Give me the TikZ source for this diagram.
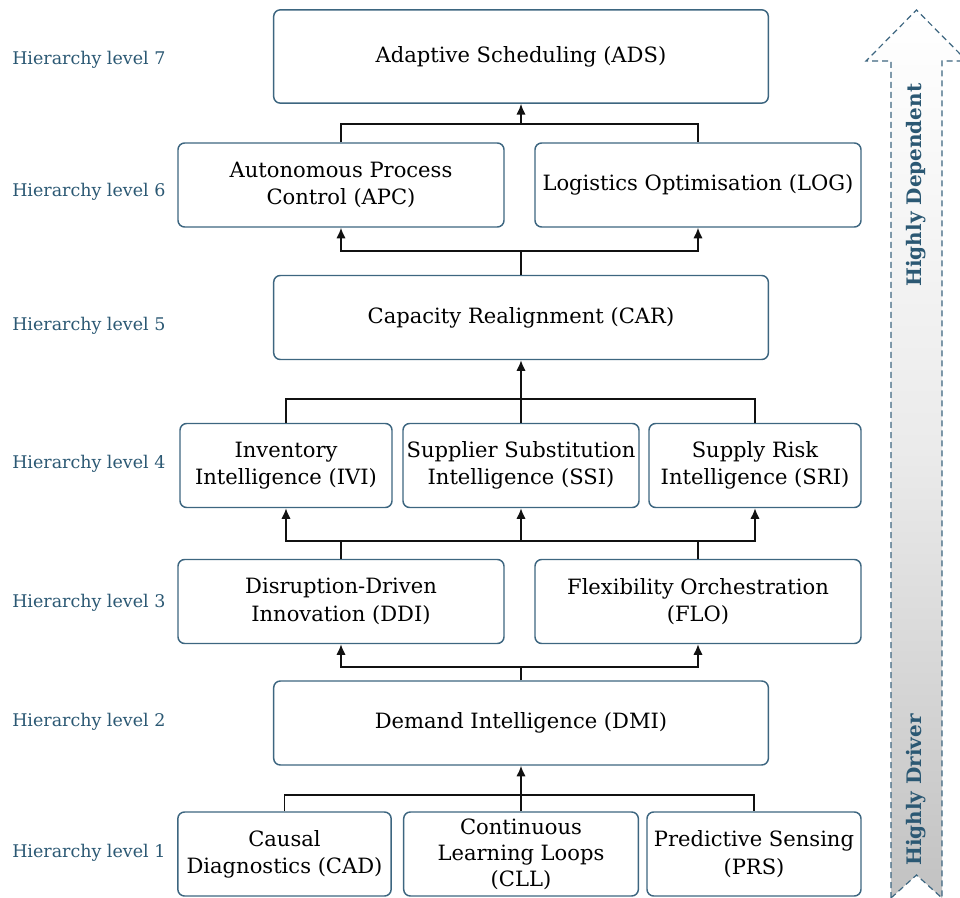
\documentclass[tikz,border=0pt]{standalone}
\usepackage{fontspec}
\setmainfont{DejaVu Serif}
\usetikzlibrary{arrows.meta}

\definecolor{lvltext}{HTML}{2B5873}
\definecolor{boxline}{HTML}{3D6680}
\definecolor{linkcol}{HTML}{111111}

\begin{document}
\begin{tikzpicture}[x=0.75pt,y=-0.75pt,
    box/.style={draw=boxline,line width=1.1pt,rounded corners=5pt,align=center,
                minimum height=63pt,inner sep=1pt,
                font=\fontsize{15.8}{20.5}\selectfont},
    widebox/.style={box,minimum width=371pt},
    midbox/.style={box,minimum width=244.5pt},
    smallbox/.style={box,minimum width=159pt},
    lvl/.style={anchor=west,text=lvltext,inner sep=0pt,font=\fontsize{13.1}{15}\selectfont},
    link/.style={draw=linkcol,line width=1.1pt},
    up/.style={link,-{Latex[length=8pt,width=7pt]}}]
\useasboundingbox (0,0) rectangle (960,898);

% Nivells de la jerarquia
\foreach \n/\y in {7/60,6/192,5/326,4/464,3/603,2/722,1/853}
    \node[lvl] (lvl\n) at (12,\y) {Hierarchy level \n};

% Caixes, de dalt a baix
\node[widebox,minimum height=70pt] (ads) at (521,56.5) {Adaptive Scheduling (ADS)};
\node[midbox] (apc) at (341,185) {Autonomous Process\\Control (APC)};
\node[midbox] (log) at (698,185) {Logistics Optimisation (LOG)};
\node[widebox] (car) at (521,317.5) {Capacity Realignment (CAR)};
\node[smallbox] (ivi) at (286,465.5) {Inventory\\Intelligence (IVI)};
\node[box,minimum width=177pt] (ssi) at (521,465.5) {Supplier Substitution\\Intelligence (SSI)};
\node[smallbox] (sri) at (755,465.5) {Supply Risk\\Intelligence (SRI)};
\node[midbox] (ddi) at (341,601.5) {Disruption-Driven\\Innovation (DDI)};
\node[midbox] (flo) at (698,601.5) {Flexibility Orchestration\\(FLO)};
\node[widebox] (dmi) at (521,723) {Demand Intelligence (DMI)};
\node[smallbox,minimum width=160pt] (cad) at (284.5,854) {Causal\\Diagnostics (CAD)};
\node[box,minimum width=176pt,font=\fontsize{15.8}{19.5}\selectfont] (cll) at (521,854) {Continuous\\Learning Loops\\(CLL)};
\node[smallbox,minimum width=160.5pt] (prs) at (754,854) {Predictive Sensing\\(PRS)};

% Punts d'unio de les connexions
\coordinate (j6) at (521,124);
\coordinate (j5) at (521,251);
\coordinate (j4) at (521,399);
\coordinate (j3) at (521,541);
\coordinate (j2) at (521,667);
\coordinate (j1) at (521,795);

% Nivell 6 -> 7
\draw[link] (apc.north) |- (j6) -| (log.north);
\draw[up] (j6) -- (ads.south);
% Nivell 5 -> 6
\draw[link] (car.north) -- (j5);
\draw[up] (j5) -| (apc.south);
\draw[up] (j5) -| (log.south);
% Nivell 4 -> 5
\draw[link] (ivi.north) |- (j4) -| (sri.north);
\draw[link] (ssi.north) -- (j4);
\draw[up] (j4) -- (car.south);
% Nivell 3 -> 4
\draw[link] (ddi.north) -- (ddi.north |- j3);
\draw[link] (flo.north) -- (flo.north |- j3);
\draw[up] (j3) -| (ivi.south);
\draw[up] (j3) -| (sri.south);
\draw[up] (j3) -- (ssi.south);
% Nivell 2 -> 3
\draw[link] (dmi.north) -- (j2);
\draw[up] (j2) -| (ddi.south);
\draw[up] (j2) -| (flo.south);
% Nivell 1 -> 2
\draw[link] (cad.north) |- (j1) -| (prs.north);
\draw[link] (cll.north) -- (j1);
\draw[up] (j1) -- (dmi.south);

% Fletxa lateral: de conductor a dependent
\path[draw=boxline,line width=0.9pt,dash pattern=on 4.5pt off 3pt,
      top color=white,bottom color=black!24,middle color=white!92!black]
    (891,898) -- (891,61) -- (866,61) -- (916.5,10) -- (967,61) -- (942,61)
    -- (942,898) -- (916.5,875) -- cycle;
\node[rotate=90,text=lvltext,font=\fontsize{15}{17}\selectfont\bfseries] (dep) at (916.5,185) {Highly Dependent};
\node[rotate=90,text=lvltext,font=\fontsize{15}{17}\selectfont\bfseries] (drv) at (916.5,790) {Highly Driver};
\end{tikzpicture}
\end{document}
